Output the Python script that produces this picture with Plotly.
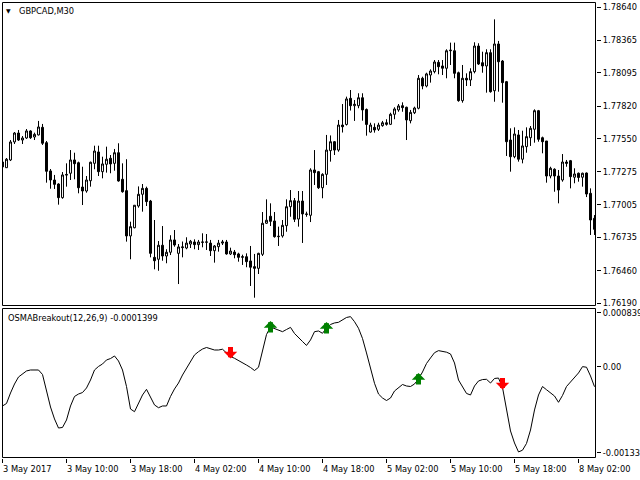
import plotly.graph_objects as go

# ---------------- data (GBPCAD, M30, bar index 0 = 3 May 2017 02:00) ----------------
tick_bars = [0, 16, 32, 48, 64, 80, 96, 112, 128, 144]
tick_labels = ["3 May 2017", "3 May 10:00", "3 May 18:00", "4 May 02:00", "4 May 10:00",
               "4 May 18:00", "5 May 02:00", "5 May 10:00", "5 May 18:00", "8 May 02:00"]

price_ticks = [1.78640, 1.78365, 1.78095, 1.77820, 1.77550, 1.77275, 1.77005, 1.76735, 1.76460, 1.76190]
osma_ticks = [0.000839, 0.0, -0.001339]
osma_tick_labels = ["0.000839", "0.00", "-0.001339"]

opens = [1.77357, 1.77310, 1.77374, 1.77523, 1.77597, 1.77539, 1.77556, 1.77614, 1.77564, 1.77581,
         1.77644, 1.77517, 1.77283, 1.77208, 1.77175, 1.77062, 1.77254, 1.77264, 1.77374, 1.77351,
         1.77150, 1.77117, 1.77202, 1.77346, 1.77440, 1.77277, 1.77338, 1.77388, 1.77346, 1.77434,
         1.77214, 1.77120, 1.76745, 1.76813, 1.76993, 1.77090, 1.77139, 1.77034, 1.76568, 1.76552,
         1.76668, 1.76579, 1.76610, 1.76712, 1.76601, 1.76648, 1.76645, 1.76678, 1.76695, 1.76673,
         1.76695, 1.76693, 1.76686, 1.76623, 1.76656, 1.76686, 1.76695, 1.76596, 1.76612, 1.76596,
         1.76568, 1.76573, 1.76538, 1.76491, 1.76477, 1.76593, 1.76850, 1.76908, 1.76869, 1.76739,
         1.76745, 1.76830, 1.76987, 1.77037, 1.76885, 1.77034, 1.76927, 1.76916, 1.77291, 1.77277,
         1.77144, 1.77255, 1.77451, 1.77525, 1.77456, 1.77663, 1.77668, 1.77884, 1.77823, 1.77823,
         1.77889, 1.77792, 1.77605, 1.77644, 1.77628, 1.77658, 1.77682, 1.77669, 1.77752, 1.77788,
         1.77823, 1.77810, 1.77699, 1.77765, 1.77802, 1.78050, 1.77986, 1.78077, 1.78105, 1.78182,
         1.78152, 1.78133, 1.78278, 1.78278, 1.78096, 1.77865, 1.78050, 1.78036, 1.78105, 1.78317,
         1.78179, 1.78152, 1.78262, 1.77947, 1.78334, 1.78193, 1.78022, 1.77539, 1.77401, 1.77581,
         1.77380, 1.77484, 1.77558, 1.77628, 1.77782, 1.77558, 1.77531, 1.77241, 1.77297, 1.77241,
         1.77208, 1.77357, 1.77368, 1.77231, 1.77264, 1.77231, 1.77266, 1.77098, 1.76891]

highs = [1.77374, 1.77390, 1.77539, 1.77605, 1.77622, 1.77572, 1.77630, 1.77620, 1.77600, 1.77697,
         1.77672, 1.77531, 1.77299, 1.77250, 1.77181, 1.77274, 1.77346, 1.77456, 1.77434, 1.77360,
         1.77318, 1.77241, 1.77360, 1.77492, 1.77492, 1.77401, 1.77484, 1.77415, 1.77465, 1.77512,
         1.77346, 1.77380, 1.76863, 1.77001, 1.77155, 1.77175, 1.77153, 1.77043, 1.76877, 1.76703,
         1.76827, 1.76635, 1.76751, 1.76794, 1.76678, 1.76699, 1.76734, 1.76712, 1.76717, 1.76712,
         1.76767, 1.76761, 1.76712, 1.76670, 1.76712, 1.76712, 1.76712, 1.76648, 1.76629, 1.76606,
         1.76590, 1.76601, 1.76662, 1.76596, 1.76606, 1.76943, 1.77048, 1.77015, 1.76943, 1.76822,
         1.76877, 1.77048, 1.77125, 1.77059, 1.77117, 1.77117, 1.76946, 1.77305, 1.77456, 1.77283,
         1.77264, 1.77581, 1.77577, 1.77531, 1.77705, 1.77837, 1.77898, 1.77953, 1.77870, 1.77926,
         1.77926, 1.77800, 1.77682, 1.77677, 1.77682, 1.77697, 1.77711, 1.77765, 1.77810, 1.77837,
         1.77851, 1.77815, 1.77788, 1.77815, 1.78077, 1.78063, 1.78096, 1.78124, 1.78201, 1.78201,
         1.78201, 1.78290, 1.78345, 1.78345, 1.78105, 1.78160, 1.78091, 1.78133, 1.78348, 1.78340,
         1.78270, 1.78290, 1.78290, 1.78538, 1.78359, 1.78201, 1.78028, 1.77636, 1.77644, 1.77622,
         1.77616, 1.77644, 1.77655, 1.77793, 1.77788, 1.77567, 1.77531, 1.77318, 1.77305, 1.77291,
         1.77423, 1.77374, 1.77374, 1.77305, 1.77270, 1.77269, 1.77270, 1.77139, 1.76918]

lows = [1.77299, 1.77308, 1.77365, 1.77506, 1.77531, 1.77506, 1.77548, 1.77548, 1.77539, 1.77577,
        1.77498, 1.77186, 1.77136, 1.77134, 1.77004, 1.77053, 1.77153, 1.77208, 1.77214, 1.77098,
        1.77001, 1.77103, 1.77153, 1.77297, 1.77241, 1.77222, 1.77269, 1.77264, 1.77285, 1.77194,
        1.77103, 1.76698, 1.76552, 1.76808, 1.76979, 1.76946, 1.76993, 1.76568, 1.76469, 1.76457,
        1.76540, 1.76519, 1.76587, 1.76656, 1.76347, 1.76568, 1.76635, 1.76645, 1.76635, 1.76629,
        1.76651, 1.76629, 1.76579, 1.76524, 1.76615, 1.76670, 1.76590, 1.76587, 1.76560, 1.76532,
        1.76505, 1.76486, 1.76331, 1.76234, 1.76430, 1.76579, 1.76844, 1.76827, 1.76731, 1.76662,
        1.76731, 1.76780, 1.76904, 1.76860, 1.76822, 1.76687, 1.76904, 1.76860, 1.77167, 1.77134,
        1.77057, 1.77167, 1.77360, 1.77415, 1.77442, 1.77601, 1.77659, 1.77783, 1.77697, 1.77802,
        1.77699, 1.77575, 1.77600, 1.77600, 1.77614, 1.77649, 1.77658, 1.77663, 1.77711, 1.77773,
        1.77773, 1.77539, 1.77677, 1.77754, 1.77793, 1.77959, 1.77975, 1.78014, 1.78091, 1.78083,
        1.78077, 1.78050, 1.78160, 1.78050, 1.77856, 1.77848, 1.77986, 1.77986, 1.78091, 1.78160,
        1.78096, 1.77931, 1.77931, 1.77856, 1.77939, 1.77848, 1.77407, 1.77277, 1.77388, 1.77360,
        1.77346, 1.77434, 1.77490, 1.77517, 1.77525, 1.77429, 1.77186, 1.77222, 1.77111, 1.77015,
        1.77194, 1.77318, 1.77139, 1.77181, 1.77194, 1.77153, 1.77067, 1.76753, 1.76753]

closes = [1.77316, 1.77380, 1.77523, 1.77597, 1.77539, 1.77556, 1.77614, 1.77558, 1.77586, 1.77647,
          1.77512, 1.77280, 1.77208, 1.77172, 1.77062, 1.77250, 1.77250, 1.77374, 1.77343, 1.77144,
          1.77117, 1.77208, 1.77355, 1.77448, 1.77277, 1.77341, 1.77380, 1.77341, 1.77434, 1.77200,
          1.77111, 1.76745, 1.76822, 1.76999, 1.77090, 1.77139, 1.77029, 1.76601, 1.76540, 1.76668,
          1.76579, 1.76610, 1.76712, 1.76670, 1.76654, 1.76654, 1.76686, 1.76701, 1.76673, 1.76695,
          1.76693, 1.76695, 1.76623, 1.76662, 1.76686, 1.76695, 1.76596, 1.76620, 1.76590, 1.76568,
          1.76573, 1.76532, 1.76486, 1.76477, 1.76601, 1.76850, 1.76875, 1.76866, 1.76739, 1.76742,
          1.76833, 1.76987, 1.77037, 1.76883, 1.77034, 1.76927, 1.76924, 1.77291, 1.77269, 1.77144,
          1.77255, 1.77456, 1.77525, 1.77456, 1.77663, 1.77649, 1.77879, 1.77823, 1.77835, 1.77889,
          1.77788, 1.77668, 1.77663, 1.77622, 1.77663, 1.77682, 1.77669, 1.77752, 1.77796, 1.77821,
          1.77807, 1.77705, 1.77768, 1.77804, 1.78050, 1.77986, 1.78086, 1.78110, 1.78185, 1.78146,
          1.78133, 1.78278, 1.78282, 1.78091, 1.77865, 1.78050, 1.78036, 1.78105, 1.78317, 1.78168,
          1.78152, 1.78262, 1.77939, 1.78334, 1.78187, 1.78014, 1.77525, 1.77401, 1.77589, 1.77380,
          1.77490, 1.77567, 1.77636, 1.77782, 1.77545, 1.77525, 1.77241, 1.77305, 1.77241, 1.77125,
          1.77357, 1.77346, 1.77236, 1.77258, 1.77229, 1.77264, 1.77092, 1.76877, 1.76800]

osma = [-0.000608, -0.000569, -0.000406, -0.000266, -0.000157, -0.000103, -0.000063, -0.000048, -0.000053, -0.000048,
        -0.000118, -0.000359, -0.000624, -0.000810, -0.000951, -0.000942, -0.000826, -0.000608, -0.000460, -0.000422,
        -0.000399, -0.000328, -0.000204, -0.000048, 0.000007, 0.000045, 0.000108, 0.000130, 0.000170, 0.000092,
        -0.000048, -0.000305, -0.000655, -0.000697, -0.000561, -0.000437, -0.000349, -0.000468, -0.000592, -0.000635,
        -0.000608, -0.000608, -0.000460, -0.000343, -0.000251, -0.000126, -0.000016, 0.000085, 0.000186, 0.000237,
        0.000278, 0.000302, 0.000287, 0.000263, 0.000263, 0.000275, 0.000217, 0.000162, 0.000134, 0.000103,
        0.000069, 0.000029, -0.000009, -0.000056, -0.000006, 0.000263, 0.000504, 0.000621, 0.000594, 0.000570,
        0.000548, 0.000582, 0.000615, 0.000520, 0.000450, 0.000395, 0.000334, 0.000419, 0.000548, 0.000559,
        0.000523, 0.000605, 0.000660, 0.000684, 0.000694, 0.000730, 0.000769, 0.000782, 0.000704, 0.000601,
        0.000442, 0.000217, -0.000025, -0.000255, -0.000422, -0.000484, -0.000523, -0.000484, -0.000375, -0.000320,
        -0.000274, -0.000297, -0.000305, -0.000266, -0.000188, -0.000079, 0.000053, 0.000139, 0.000221, 0.000253,
        0.000240, 0.000229, 0.000201, 0.000061, -0.000204, -0.000320, -0.000413, -0.000437, -0.000297, -0.000219,
        -0.000197, -0.000193, -0.000251, -0.000180, -0.000173, -0.000320, -0.000693, -0.000997, -0.001184, -0.001323,
        -0.001296, -0.001191, -0.000982, -0.000670, -0.000437, -0.000305, -0.000355, -0.000406, -0.000453, -0.000551,
        -0.000444, -0.000305, -0.000235, -0.000170, -0.000094, 0.000004, -0.000005, -0.000141, -0.000308]

buy_bars = [67, 81, 104]
sell_bars = [57, 125]

# ---------------- figure ----------------
bars = list(range(len(opens)))
FONT = "DejaVu Sans Condensed, DejaVu Sans, Liberation Sans, sans-serif"

fig = go.Figure()
fig.add_trace(go.Candlestick(
    x=bars, open=opens, high=highs, low=lows, close=closes,
    increasing=dict(line=dict(color="black", width=1), fillcolor="white"),
    decreasing=dict(line=dict(color="black", width=1), fillcolor="black"),
    whiskerwidth=0, hoverinfo="skip", xaxis="x", yaxis="y"))
fig.add_trace(go.Scatter(
    x=bars, y=osma, mode="lines", line=dict(color="black", width=1),
    hoverinfo="skip", xaxis="x", yaxis="y2"))

# signal arrows (block arrows like MT4 Wingdings 233/234)
arrow_annotations = []
for b in buy_bars:
    arrow_annotations.append(dict(
        x=b, y=osma[b], xref="x", yref="y2", text="", showarrow=True,
        ax=0, ay=13, yshift=6, arrowhead=1, arrowwidth=5, arrowsize=0.45,
        arrowcolor="#008000", standoff=0, startstandoff=0))
for b in sell_bars:
    arrow_annotations.append(dict(
        x=b, y=osma[b], xref="x", yref="y2", text="", showarrow=True,
        ax=0, ay=-13, yshift=-2, arrowhead=1, arrowwidth=5, arrowsize=0.45,
        arrowcolor="#ff0000", standoff=0, startstandoff=0))

# panel geometry (plot area spans y = 2 .. 458 px)
main_dom = [152 / 456, 1.0]      # 306 px .. 2 px
ind_dom = [0.0, 150 / 456]       # 458 px .. 308 px
frame = dict(color="black", width=1)
hx = 0.5 / 594
fig.update_layout(
    width=640, height=480,
    margin=dict(l=2, r=44, t=2, b=22, autoexpand=False),
    paper_bgcolor="white", plot_bgcolor="white",
    showlegend=False,
    font=dict(family=FONT, size=9.2, color="black"),
    xaxis=dict(range=[-0.125, 148.375], tickvals=tick_bars, ticktext=tick_labels,
               ticks="outside", ticklen=4, tickcolor="black", tickwidth=1,
               showgrid=False, zeroline=False, showline=False,
               rangeslider=dict(visible=False), anchor="y2",
               ticklabelposition="outside right", ticklabeloverflow="allow",
               ticklabelstandoff=2),
    yaxis=dict(domain=main_dom, range=[1.761652, 1.786814], side="right",
               tickvals=price_ticks, ticktext=["%.5f" % v for v in price_ticks],
               ticks="outside", ticklen=4, tickcolor="black", tickwidth=1,
               showgrid=False, zeroline=False, showline=False, anchor="x",
               ticklabeloverflow="allow"),
    yaxis2=dict(domain=ind_dom, range=[-0.0014175, 0.0009165], side="right",
                tickvals=osma_ticks, ticktext=osma_tick_labels,
                ticks="outside", ticklen=4, tickcolor="black", tickwidth=1,
                showgrid=False, zeroline=False, showline=False, anchor="x",
                ticklabeloverflow="allow"),
    shapes=[
        dict(type="rect", xref="paper", yref="y domain", x0=hx, x1=1 - hx,
             y0=0.5 / 304, y1=1 - 0.5 / 304, line=frame),
        dict(type="rect", xref="paper", yref="y2 domain", x0=hx, x1=1 - hx,
             y0=0.5 / 150, y1=1 - 0.5 / 150, line=frame),
    ],
    annotations=arrow_annotations + [
        dict(text="▼", xref="paper", yref="paper", x=(8 - 2) / 594, y=(458 - 10.5) / 456,
             xanchor="center", yanchor="middle", showarrow=False, borderpad=0,
             font=dict(family="DejaVu Sans", size=6, color="black")),
        dict(text="GBPCAD,M30", xref="paper", yref="paper", x=(18 - 2) / 594, y=(458 - 10.5) / 456,
             xanchor="left", yanchor="middle", showarrow=False, borderpad=0,
             font=dict(family=FONT, size=9.2, color="black")),
        dict(text="OSMABreakout(12,26,9) -0.0001399", xref="paper", yref="paper",
             x=(7.3 - 2) / 594, y=(458 - 317.5) / 456,
             xanchor="left", yanchor="middle", showarrow=False, borderpad=0,
             font=dict(family=FONT, size=9.2, color="black")),
    ],
)

fig.write_html("out.html", config={"displayModeBar": False},
               post_script="document.body.style.margin='0px';document.body.style.overflow='hidden';")
